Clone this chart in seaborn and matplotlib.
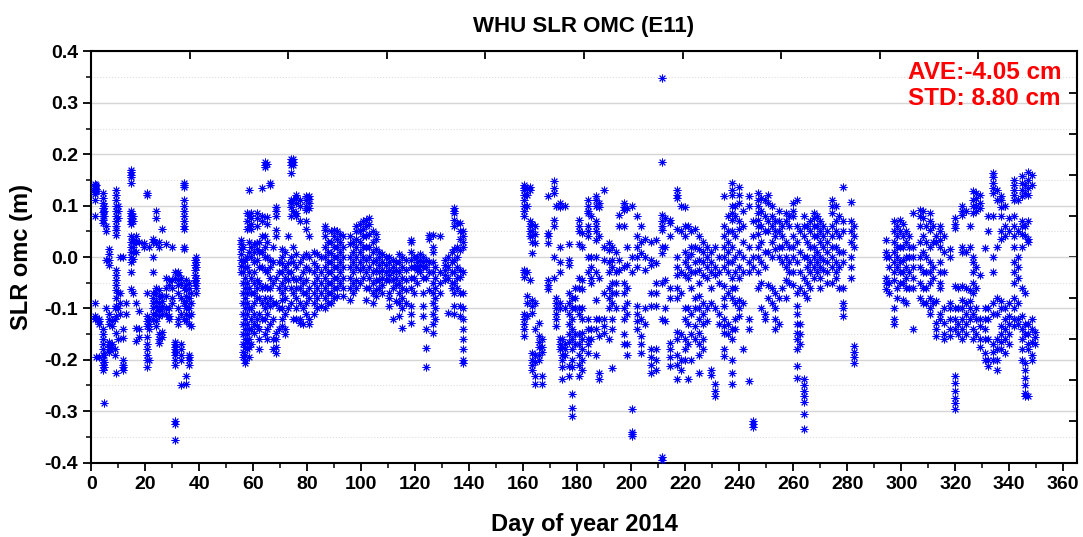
import numpy as np
import pandas as pd
import matplotlib
matplotlib.use("Agg")
import matplotlib.pyplot as plt
import seaborn as sns

# SLR observed-minus-computed residuals (m), one entry per normal-point pass:
# (day of year, residuals within that pass)
passes_jan_feb = [
    (1.2, [0.142, 0.138, 0.135, 0.131, 0.127, 0.122, 0.11, 0.08, -0.09, -0.115, -0.12]),
    (1.8, [0.14, 0.133, 0.128, -0.118, -0.195]),
    (3.0, [-0.12, -0.125, -0.13, -0.195]),
    (4.2, [0.125, 0.115, 0.105, 0.095, 0.088, 0.08, 0.072, 0.066, -0.14, -0.15, -0.16, -0.17, -0.18, -0.19, -0.2, -0.21, -0.22]),
    (4.7, [0.1, 0.09, 0.08, -0.285, -0.19, -0.205, -0.215]),
    (5.5, [0.06, 0.05, -0.005, -0.1]),
    (6.5, [0.015, 0.005, -0.005, -0.015, -0.11, -0.12, -0.13, -0.165, -0.17, -0.175, -0.18, -0.185]),
    (7.5, [-0.125, -0.135, -0.17, -0.178]),
    (8.6, [-0.1, -0.12, -0.18, -0.19]),
    (9.3, [0.13, 0.12, 0.11, 0.1, 0.09, 0.08, 0.07, 0.06, 0.053, 0.043, -0.025, -0.035, -0.045, -0.055, -0.065, -0.08, -0.095, -0.115, -0.147, -0.225]),
    (10.0, [0.1, 0.09, 0.075, -0.07, -0.1, -0.16]),
    (10.8, [0.0, -0.07, -0.09, -0.11]),
    (11.8, [0.0, -0.14, -0.157, -0.2, -0.21, -0.215, -0.22]),
    (12.8, [-0.09, -0.11]),
    (14.8, [0.17, 0.165, 0.16, 0.155, 0.145, 0.09, 0.085, 0.08, 0.075, 0.07, 0.065, 0.04, 0.03, 0.02, 0.01, 0.0, -0.01, -0.03, -0.063]),
    (15.5, [0.08, 0.07, 0.035, 0.03, 0.02, 0.01, -0.003, -0.07]),
    (16.5, [0.04, 0.03, 0.01, -0.09, -0.138, -0.164]),
    (17.7, [0.03, -0.14, -0.155, -0.105]),
    (19.5, [0.028, 0.02]),
    (20.5, [0.124, 0.12, -0.07, -0.115, -0.125, -0.135, -0.155, -0.17, -0.18, -0.19, -0.2, -0.215]),
    (21.5, [0.02, -0.12, -0.13, -0.14, -0.2]),
    (23.0, [0.035, 0.03, 0.0, -0.03, -0.07, -0.08, -0.09, -0.1, -0.11, -0.12]),
    (24.0, [0.09, 0.075, 0.028, -0.06, -0.07, -0.085, -0.095, -0.11, -0.125, -0.135]),
    (25.0, [0.03, 0.02, -0.065, -0.075, -0.09, -0.1, -0.105, -0.115, -0.15, -0.16, -0.167]),
    (26.2, [0.055, -0.075, -0.085, -0.095, -0.1, -0.11, -0.145, -0.155]),
    (27.5, [0.025, -0.04, -0.06, -0.075, -0.1, -0.11]),
    (28.8, [-0.045, -0.055, -0.1, -0.115, -0.12]),
    (30.0, [0.02, -0.045, -0.06, -0.08, -0.09]),
    (31.0, [-0.03, -0.04, -0.165, -0.17, -0.175, -0.18, -0.185, -0.19, -0.2, -0.21, -0.32, -0.325, -0.357]),
    (32.3, [-0.03, -0.035, -0.045, -0.055, -0.07, -0.1, -0.12, -0.13]),
    (33.3, [-0.04, -0.05, -0.08, -0.11, -0.17, -0.18, -0.19, -0.2, -0.25]),
    (34.3, [0.145, 0.14, 0.137, 0.11, 0.1, 0.09, 0.08, 0.07, 0.06, 0.055, 0.02, 0.015, -0.06, -0.09, -0.12]),
    (35.2, [-0.045, -0.055, -0.065, -0.075, -0.085, -0.095, -0.1, -0.11, -0.125, -0.232, -0.248]),
    (36.2, [-0.05, -0.06, -0.08, -0.1, -0.115, -0.13, -0.19, -0.195, -0.2, -0.21]),
    (37.0, [-0.07, -0.09, -0.11, -0.135]),
    (38.3, [-0.005, -0.015, -0.025, -0.035, -0.045, -0.05]),
    (38.9, [0.0, -0.01, -0.02, -0.04, -0.05, -0.06, -0.07]),
]

passes_feb_may = [
    (55.5, [0.034, 0.025, 0.015, 0.005, -0.005, -0.018, -0.03]),
    (56.3, [0.02, -0.01, -0.03, -0.05, -0.07, -0.09, -0.11, -0.13, -0.15, -0.17, -0.185, -0.195]),
    (57.0, [-0.005, -0.02, -0.04, -0.06, -0.08, -0.1, -0.12, -0.14, -0.16, -0.175, -0.19, -0.2, -0.206]),
    (57.8, [0.085, 0.07, 0.055, 0.0, -0.02, -0.05, -0.07, -0.09, -0.11, -0.13, -0.15, -0.165, -0.18]),
    (58.5, [0.13, 0.08, 0.06, 0.03, 0.01, -0.03, -0.06, -0.1, -0.14, -0.16, -0.175, -0.195]),
    (59.3, [0.085, 0.075, 0.065, 0.055, 0.02, 0.0, -0.04, -0.07, -0.1, -0.12, -0.14, -0.17]),
    (60.3, [0.025, 0.01, -0.01, -0.03, -0.05, -0.07, -0.09, -0.11, -0.13, -0.148]),
    (61.3, [0.085, 0.075, 0.06, 0.027, 0.015, -0.005, -0.044, -0.06, -0.08, -0.12, -0.135]),
    (62.3, [0.03, 0.01, -0.02, -0.05, -0.08, -0.11, -0.14, -0.16, -0.18]),
    (63.2, [0.135, 0.08, 0.07, 0.04, 0.01, -0.02, -0.06, -0.09, -0.12]),
    (64.2, [0.185, 0.18, 0.175, 0.04, 0.02, 0.0, -0.025, -0.057, -0.08, -0.1, -0.12, -0.15]),
    (65.0, [0.182, 0.078, 0.065, 0.03, 0.0, -0.03, -0.06, -0.09, -0.11, -0.14, -0.16]),
    (66.3, [0.144, 0.14, -0.005, -0.02, -0.04, -0.06, -0.08, -0.096, -0.13]),
    (67.3, [0.02, -0.01, -0.05, -0.09, -0.12, -0.16, -0.18]),
    (68.5, [0.098, 0.09, 0.08, 0.053, 0.04, -0.04, -0.09, -0.148, -0.16, -0.175, -0.186]),
    (69.5, [-0.01, -0.03, -0.06, -0.1, -0.14]),
    (70.7, [0.015, 0.0, -0.012, -0.03, -0.05, -0.07, -0.083, -0.1, -0.12, -0.135]),
    (71.7, [0.01, -0.02, -0.04, -0.06, -0.08, -0.11, -0.14, -0.15]),
    (72.8, [0.04, -0.012, -0.03, -0.044, -0.1]),
    (73.8, [0.19, 0.185, 0.18, 0.163, 0.111, 0.105, 0.098, 0.079, 0.0, -0.03, -0.06, -0.09]),
    (74.8, [0.19, 0.185, 0.18, 0.11, 0.09, 0.02, -0.01, -0.04, -0.07, -0.12]),
    (76.0, [0.12, 0.115, 0.105, 0.085, 0.08, 0.005, -0.02, -0.045, -0.06, -0.08, -0.1, -0.12]),
    (77.2, [0.11, 0.1, 0.07, -0.01, -0.04, -0.06, -0.09, -0.12, -0.128]),
    (78.5, [0.0, -0.03, -0.05, -0.07, -0.1, -0.13]),
    (79.6, [0.118, 0.11, 0.1, 0.092, 0.07, 0.055, 0.005, -0.02, -0.044, -0.07, -0.09, -0.11]),
    (80.8, [0.118, 0.112, 0.105, 0.095, 0.04, 0.0, -0.025, -0.06, -0.08, -0.12, -0.13]),
    (82.5, [0.01, -0.012, -0.03, -0.05, -0.07, -0.09, -0.11]),
    (83.7, [0.005, -0.02, -0.04, -0.06, -0.08, -0.1]),
    (85.0, [0.0, -0.03, -0.05, -0.07, -0.096]),
    (86.5, [0.06, 0.053, 0.04, 0.02, 0.0, -0.02, -0.04, -0.06, -0.08, -0.1]),
    (87.6, [0.03, 0.01, -0.01, -0.03, -0.05, -0.07, -0.09]),
    (88.7, [0.05, 0.03, 0.008, -0.01, -0.03, -0.05, -0.07, -0.09]),
    (89.8, [0.053, 0.04, 0.02, 0.0, -0.02, -0.04, -0.06, -0.08]),
    (91.0, [0.05, 0.035, 0.02, 0.0, -0.02, -0.04, -0.06, -0.076]),
    (92.2, [0.045, 0.03, 0.01, -0.01, -0.03, -0.05]),
    (93.4, [0.04, 0.02, 0.0, -0.02, -0.04, -0.06, -0.076]),
    (95.8, [0.04, 0.025, 0.0, -0.02, -0.04, -0.06, -0.083]),
    (97.0, [0.03, 0.01, -0.01, -0.03, -0.05, -0.07]),
    (98.2, [0.06, 0.05, 0.035, 0.02, 0.0, -0.02, -0.045, -0.06]),
    (99.4, [0.065, 0.05, 0.03, 0.01, -0.01, -0.025, -0.05]),
    (100.6, [0.07, 0.055, 0.04, 0.02, 0.0, -0.02, -0.04]),
    (101.8, [0.072, 0.06, 0.04, 0.02, -0.005, -0.03, -0.06, -0.083]),
    (103.0, [0.075, 0.065, 0.045, 0.02, 0.0, -0.02, -0.04, -0.06]),
    (104.2, [0.05, 0.03, 0.01, -0.01, -0.03, -0.05, -0.07, -0.09]),
    (105.4, [0.045, 0.035, 0.015, -0.005, -0.025, -0.045, -0.065, -0.076]),
    (106.6, [0.01, 0.0, -0.015, -0.03, -0.045, -0.06]),
    (107.8, [0.005, -0.01, -0.025, -0.04, -0.055, -0.07]),
    (109.0, [0.0, -0.015, -0.03, -0.045]),
    (110.4, [0.0, -0.01, -0.025, -0.035, -0.044, -0.07, -0.08, -0.096]),
    (111.6, [-0.005, -0.02, -0.03, -0.045, -0.06, -0.12]),
    (112.8, [-0.01, -0.025, -0.04, -0.055, -0.085]),
    (114.0, [0.005, -0.01, -0.03, -0.05, -0.07, -0.09, -0.115]),
    (115.2, [0.0, -0.02, -0.04, -0.06, -0.08, -0.1, -0.138]),
    (116.4, [-0.005, -0.025, -0.045, -0.065, -0.09]),
    (118.3, [0.034, 0.03, 0.01, -0.005, -0.02, -0.04, -0.06, -0.096, -0.11, -0.128]),
    (119.5, [0.0, -0.02, -0.04, -0.07]),
    (120.7, [0.0, -0.01, -0.02, -0.025, -0.05]),
    (121.8, [0.005, -0.005, -0.015, -0.03]),
    (123.0, [0.0, -0.01, -0.02, -0.04, -0.07, -0.096, -0.115]),
    (124.0, [-0.005, -0.02, -0.04, -0.14, -0.177, -0.215]),
    (125.0, [0.043, 0.035, -0.01, -0.03, -0.065]),
    (126.5, [0.043, 0.02, 0.01, -0.01, -0.03, -0.05, -0.07, -0.09, -0.11, -0.13, -0.148]),
    (127.3, [-0.02, -0.04, -0.06, -0.08, -0.1, -0.12]),
    (129.0, [0.04, -0.03, -0.05, -0.07]),
    (131.0, [-0.005, -0.015, -0.025, -0.035, -0.044]),
    (132.3, [0.0, -0.02, -0.04, -0.109]),
    (133.5, [0.01, -0.01, -0.03, -0.05, -0.06]),
    (134.5, [0.095, 0.09, 0.085, 0.072, 0.06, 0.015, -0.005, -0.03, -0.05, -0.07, -0.096, -0.11]),
    (135.5, [0.066, 0.02, 0.0, -0.02, -0.04, -0.06]),
    (136.7, [0.066, 0.05, 0.035, 0.014, -0.025, -0.038, -0.07, -0.096, -0.115]),
    (137.8, [0.05, 0.04, 0.03, 0.02, -0.03, -0.07, -0.1, -0.12, -0.14, -0.16, -0.18, -0.2, -0.206]),
]

passes_jun_oct = [
    (160.3, [0.14, 0.135, 0.13, 0.12, 0.11, 0.1, 0.09, 0.08, -0.025, -0.03, -0.038, -0.11, -0.12, -0.13, -0.14, -0.154]),
    (161.2, [0.135, 0.12, 0.1, -0.03, -0.076, -0.09, -0.115]),
    (162.5, [0.137, 0.13, 0.07, 0.06, 0.05, 0.04, -0.044]),
    (163.3, [0.065, 0.05, 0.04, 0.03, 0.008, -0.083, -0.095, -0.109, -0.186, -0.2, -0.21, -0.22]),
    (164.3, [0.06, 0.045, 0.027, -0.09, -0.141, -0.19, -0.205, -0.232, -0.248]),
    (166.0, [-0.128, -0.154, -0.165, -0.175, -0.19, -0.2]),
    (167.0, [-0.16, -0.175, -0.185, -0.232, -0.248]),
    (169.0, [0.118, 0.047, 0.04, 0.027, -0.044, -0.055, -0.063]),
    (171.3, [0.147, 0.135, 0.124, 0.072, 0.06, 0.0, -0.04]),
    (172.3, [0.1, -0.08, -0.09, -0.1, -0.11, -0.12, -0.135]),
    (173.5, [0.105, 0.098, 0.02, -0.01, -0.03, -0.09, -0.1, -0.16, -0.17, -0.18]),
    (174.5, [-0.16, -0.175, -0.19, -0.2, -0.215, -0.238]),
    (175.6, [0.1, -0.1, -0.17, -0.18, -0.19]),
    (177.0, [0.025, -0.005, -0.015, -0.07, -0.09, -0.11, -0.13, -0.15, -0.165, -0.212, -0.232]),
    (178.2, [-0.08, -0.1, -0.12, -0.14, -0.16, -0.18, -0.2, -0.215, -0.267, -0.293, -0.31]),
    (179.3, [-0.06, -0.08, -0.1, -0.15, -0.17]),
    (180.5, [0.072, 0.06, 0.05, 0.025, -0.04, -0.06, -0.1, -0.11, -0.15, -0.17, -0.19, -0.21, -0.232]),
    (181.8, [0.047, 0.02, -0.045, -0.063, -0.1, -0.12, -0.148, -0.16, -0.18, -0.2, -0.22]),
    (183.8, [0.111, 0.1, 0.09, 0.085, 0.06, 0.05, 0.04, 0.0, -0.03, -0.12, -0.14, -0.16, -0.17, -0.186]),
    (185.0, [0.08, 0.0, -0.02, -0.04, -0.05, -0.14, -0.16]),
    (186.8, [0.118, 0.11, 0.1, 0.07, 0.06, 0.05, 0.034, 0.0, -0.03, -0.083, -0.12, -0.14, -0.19]),
    (188.2, [0.105, 0.098, 0.04, -0.04, -0.12, -0.154, -0.225, -0.238]),
    (190.0, [0.131, 0.02, -0.005, -0.07, -0.12, -0.135, -0.148]),
    (191.7, [0.027, 0.014, -0.01, -0.03, -0.06, -0.08, -0.1, -0.16]),
    (193.0, [0.02, -0.005, -0.02, -0.05, -0.07, -0.09, -0.12, -0.14, -0.216]),
    (194.5, [0.01, -0.03, -0.05, -0.07, -0.1]),
    (195.5, [0.082, 0.06, -0.005, -0.025]),
    (197.2, [0.105, 0.098, 0.092, 0.06, -0.02, -0.05, -0.07, -0.1, -0.12, -0.15, -0.17]),
    (198.6, [0.095, 0.02, -0.015, -0.06, -0.09, -0.11, -0.17, -0.19]),
    (200.3, [0.1, 0.0, -0.03, -0.296, -0.34, -0.345, -0.348]),
    (202.0, [0.079, 0.04, 0.02, 0.0, -0.02, -0.096, -0.11, -0.125, -0.141]),
    (203.5, [0.06, 0.03, 0.008, -0.12, -0.154, -0.17, -0.186]),
    (205.0, [0.035, 0.0, -0.025, -0.1, -0.13]),
    (207.3, [0.03, -0.005, -0.015, -0.07, -0.096, -0.18, -0.195, -0.21, -0.225]),
    (209.0, [0.034, -0.012, -0.05, -0.07, -0.095, -0.18, -0.2, -0.22]),
    (211.5, [0.348, 0.184, 0.082, 0.07, 0.06, 0.053, 0.02, 0.008, -0.05, -0.12, -0.39, -0.395]),
    (212.5, [0.075, 0.02, -0.045, -0.1, -0.125]),
    (214.5, [0.072, 0.066, 0.04, -0.06, -0.08, -0.167, -0.18, -0.195, -0.212]),
    (217.0, [0.131, 0.12, 0.115, 0.055, 0.0, -0.02, -0.035, -0.06, -0.08, -0.145, -0.16, -0.19, -0.21, -0.238]),
    (218.5, [0.1, 0.05, -0.03, -0.07, -0.15, -0.2, -0.22]),
    (219.8, [0.098, 0.06, 0.04, 0.01, -0.01, -0.035, -0.1, -0.12, -0.16, -0.18, -0.2]),
    (221.0, [0.06, 0.0, -0.02, -0.04, -0.1, -0.13, -0.17, -0.238]),
    (222.3, [0.05, 0.02, 0.005, -0.03, -0.06, -0.11, -0.15, -0.2]),
    (223.6, [0.055, 0.02, -0.01, -0.03, -0.08, -0.1, -0.135, -0.16]),
    (225.0, [0.04, 0.015, -0.005, -0.025, -0.05, -0.076, -0.1, -0.12, -0.148, -0.17, -0.19, -0.225]),
    (226.5, [0.03, 0.01, -0.01, -0.035, -0.09, -0.11, -0.13, -0.16, -0.18]),
    (228.0, [0.02, 0.0, -0.02, -0.04, -0.1, -0.125]),
    (229.5, [0.01, -0.01, -0.03, -0.06, -0.09, -0.22, -0.23]),
    (231.0, [0.02, -0.02, -0.035, -0.1, -0.248, -0.26, -0.27]),
    (232.5, [0.0, -0.03, -0.05, -0.11, -0.13]),
    (234.3, [0.118, 0.06, 0.04, 0.02, 0.0, -0.02, -0.057, -0.08, -0.096, -0.12, -0.135, -0.148, -0.18, -0.193]),
    (235.8, [0.08, 0.05, 0.03, 0.01, -0.01, -0.03, -0.07, -0.13, -0.15]),
    (237.3, [0.144, 0.13, 0.12, 0.1, 0.085, 0.072, 0.05, 0.02, -0.01, -0.04, -0.06, -0.08, -0.14, -0.16, -0.2, -0.225, -0.248]),
    (238.5, [0.1, 0.08, 0.04, 0.0, -0.03, -0.06, -0.09, -0.12, -0.14]),
    (240.0, [0.137, 0.12, 0.105, 0.07, 0.055, 0.01, -0.02, -0.04, -0.083, -0.1, -0.115]),
    (241.5, [0.09, 0.06, 0.03, 0.0, -0.03, -0.09, -0.18]),
    (243.7, [0.118, 0.1, 0.02, -0.01, -0.03, -0.12, -0.14, -0.241]),
    (245.0, [0.07, 0.04, 0.0, -0.02, -0.32, -0.325, -0.33]),
    (246.8, [0.124, 0.11, 0.1, 0.085, 0.072, 0.06, 0.045, 0.02, 0.0, -0.03, -0.06]),
    (248.0, [0.115, 0.09, 0.06, 0.03, -0.01, -0.05, -0.1]),
    (249.4, [0.11, 0.08, 0.05, 0.01, -0.02, -0.11, -0.12]),
    (250.8, [0.12, 0.105, 0.07, 0.05, 0.01, -0.055, -0.08]),
    (252.0, [0.1, 0.08, 0.06, 0.03, 0.0, -0.06, -0.09]),
    (253.3, [0.07, 0.05, 0.04, 0.015, -0.07, -0.1, -0.12, -0.14]),
    (254.7, [0.09, 0.07, 0.05, 0.02, 0.0, -0.08, -0.13]),
    (256.0, [0.06, 0.04, 0.02, -0.01, -0.06]),
    (257.3, [0.085, 0.07, 0.03, 0.0, -0.02, -0.045, -0.08]),
    (258.6, [0.08, 0.06, 0.02, -0.01, -0.03, -0.05]),
    (260.0, [0.105, 0.09, 0.08, 0.04, 0.02, 0.0, -0.03, -0.055]),
    (261.3, [0.111, 0.06, 0.03, -0.01, -0.07, -0.096, -0.11, -0.13, -0.148, -0.16, -0.18, -0.212, -0.235]),
    (262.5, [0.05, 0.01, -0.03, -0.06, -0.13, -0.15, -0.17]),
    (263.8, [0.079, 0.06, 0.04, 0.0, -0.04, -0.07, -0.238, -0.25, -0.26, -0.27, -0.283, -0.306, -0.335]),
    (265.0, [0.06, 0.03, 0.0, -0.02, -0.05, -0.08]),
    (266.3, [0.07, 0.05, 0.02, -0.01, -0.03, -0.06]),
    (267.6, [0.085, 0.075, 0.06, 0.04, 0.02, 0.0, -0.02, -0.04]),
    (268.8, [0.08, 0.06, 0.04, 0.01, -0.01, -0.03]),
    (270.0, [0.07, 0.05, 0.03, 0.0, -0.02, -0.04, -0.06]),
    (271.2, [0.06, 0.04, 0.02, -0.005, -0.025]),
    (272.5, [0.05, 0.03, 0.01, -0.01, -0.03, -0.05]),
    (274.5, [0.111, 0.1, 0.085, 0.06, 0.04, 0.02, 0.0, -0.02, -0.05]),
    (275.8, [0.1, 0.07, 0.05, 0.02, -0.01, -0.03, -0.04]),
    (277.0, [0.08, 0.04, 0.01, -0.02, -0.06]),
    (278.5, [0.137, 0.07, 0.05, 0.01, -0.01, -0.06, -0.089, -0.1, -0.115]),
    (281.3, [0.108, 0.07, 0.05, 0.03, 0.0, -0.02, -0.04]),
    (282.5, [0.06, 0.04, 0.02, -0.173, -0.185, -0.195, -0.206]),
]

passes_oct_dec = [
    (294.2, [0.034, 0.01, 0.0, -0.04, -0.05, -0.063]),
    (295.3, [0.0, -0.02, -0.05, -0.07]),
    (297.2, [0.07, 0.05, 0.03, 0.01, -0.01, -0.03, -0.044, -0.1, -0.12, -0.131]),
    (298.3, [0.06, 0.04, 0.02, 0.0, -0.02, -0.06, -0.08]),
    (299.4, [0.072, 0.05, 0.02, -0.01, -0.03, -0.05]),
    (300.6, [0.065, 0.04, 0.02, -0.005, -0.03, -0.05, -0.083]),
    (301.8, [0.05, 0.03, 0.0, -0.02, -0.04, -0.06, -0.09]),
    (303.0, [0.04, 0.02, 0.0, -0.03, -0.06]),
    (304.3, [0.085, 0.02, 0.0, -0.02, -0.04, -0.06, -0.141]),
    (306.8, [0.092, 0.08, 0.06, 0.03, 0.0, -0.02, -0.05, -0.08]),
    (308.0, [0.09, 0.075, 0.04, 0.01, -0.03, -0.06, -0.09]),
    (309.3, [0.06, 0.03, 0.0, -0.03, -0.06, -0.09]),
    (310.6, [0.085, 0.07, 0.053, 0.02, -0.01, -0.03, -0.05, -0.08, -0.1, -0.11]),
    (311.8, [0.06, 0.03, -0.02, -0.04, -0.09]),
    (313.0, [0.04, 0.03, -0.085, -0.128, -0.14, -0.154]),
    (314.5, [0.06, 0.05, 0.034, 0.02, -0.01, -0.03, -0.05, -0.06, -0.11, -0.12]),
    (316.0, [0.04, 0.01, -0.03, -0.1, -0.128, -0.15, -0.16]),
    (318.0, [0.015, 0.0, -0.09, -0.1, -0.12, -0.14, -0.154]),
    (319.8, [0.075, 0.065, 0.056, -0.057, -0.1, -0.12, -0.14, -0.232, -0.245, -0.26, -0.275, -0.285, -0.296]),
    (321.0, [-0.06, -0.1, -0.13, -0.15]),
    (322.5, [0.1, 0.09, 0.082, 0.02, 0.01, -0.057, -0.083, -0.1, -0.12, -0.14, -0.16]),
    (324.0, [0.09, 0.01, -0.06, -0.09, -0.11, -0.13, -0.15]),
    (325.3, [0.06, 0.02, -0.065, -0.085, -0.1, -0.12]),
    (326.5, [0.128, 0.11, 0.1, 0.085, 0.0, -0.01, -0.03, -0.05, -0.07, -0.11, -0.14, -0.16]),
    (327.8, [0.125, 0.115, 0.1, 0.09, -0.02, -0.06, -0.1, -0.12, -0.15]),
    (329.2, [0.12, 0.105, 0.095, -0.035, -0.12, -0.135, -0.16, -0.175]),
    (331.0, [0.017, -0.1, -0.12, -0.14, -0.16, -0.186, -0.2]),
    (332.3, [0.08, 0.05, -0.1, -0.12, -0.16, -0.2, -0.212]),
    (334.0, [0.163, 0.155, 0.145, 0.135, 0.124, 0.08, 0.0, -0.03, -0.09, -0.11, -0.17, -0.185, -0.2]),
    (335.5, [0.13, 0.11, 0.02, -0.08, -0.11, -0.16, -0.18, -0.2, -0.22]),
    (337.0, [0.118, 0.11, 0.098, 0.08, 0.05, 0.035, -0.085, -0.1, -0.135, -0.15, -0.165, -0.18]),
    (338.5, [0.1, 0.06, 0.04, -0.1, -0.12, -0.14, -0.16, -0.186]),
    (340.0, [0.075, 0.05, -0.09, -0.115, -0.13, -0.15, -0.17]),
    (341.8, [0.15, 0.14, 0.13, 0.12, 0.111, 0.08, 0.06, 0.04, 0.02, -0.01, -0.03, -0.05, -0.08, -0.1, -0.12, -0.135]),
    (343.2, [0.11, 0.05, 0.0, -0.02, -0.04, -0.09, -0.12, -0.13]),
    (344.8, [0.157, 0.145, 0.13, 0.118, 0.07, 0.06, 0.045, 0.02, -0.06, -0.115, -0.14, -0.16, -0.18, -0.2]),
    (345.8, [0.14, 0.125, 0.06, 0.04, -0.07, -0.13, -0.15, -0.206, -0.22, -0.235, -0.25, -0.265, -0.27]),
    (347.0, [0.166, 0.15, 0.135, 0.12, 0.07, 0.035, 0.03, -0.13, -0.15, -0.17, -0.18, -0.27]),
    (348.3, [0.16, 0.14, -0.12, -0.14, -0.165, -0.19, -0.2]),
    (349.5, [-0.145, -0.155, -0.17]),
]

x_major_ticks = list(range(0, 361, 20))
y_major_ticks = [-0.4, -0.3, -0.2, -0.1, 0.0, 0.1, 0.2, 0.3, 0.4]
y_tick_labels = ["-0.4", "-0.3", "-0.2", "-0.1", "0.0", "0.1", "0.2", "0.3", "0.4"]
ave_cm = -4.05
std_cm = 8.80

rows = []
for group in (passes_jan_feb, passes_feb_may, passes_jun_oct, passes_oct_dec):
    for day, vals in group:
        for v in vals:
            rows.append((day, v))
df = pd.DataFrame(rows, columns=["day", "omc"])

sns.set_theme(style="white")
plt.rcParams["font.family"] = ["Liberation Sans", "DejaVu Sans"]
plt.rcParams["font.weight"] = "bold"
plt.rcParams["text.color"] = "black"
plt.rcParams["axes.labelcolor"] = "black"
plt.rcParams["xtick.color"] = "black"
plt.rcParams["ytick.color"] = "black"

fig = plt.figure(figsize=(10.83, 5.37), dpi=100)
ax = fig.add_axes([0.0843, 0.1387, 0.9099, 0.7654])

sns.scatterplot(data=df, x="day", y="omc", marker=(8, 2, 0), s=26,
                color="#0000ff", linewidth=0.7, legend=False, ax=ax, zorder=3)

ax.set_xlim(0, 365)
ax.set_ylim(-0.4, 0.4)
ax.set_xticks(x_major_ticks)
ax.set_xticks(list(range(10, 365, 20)), minor=True)
ax.set_yticks(y_major_ticks)
ax.set_yticklabels(y_tick_labels)
ax.set_yticks([-0.35, -0.25, -0.15, -0.05, 0.05, 0.15, 0.25, 0.35], minor=True)

ax.tick_params(axis="both", which="major", direction="out", length=6, width=1.3,
               labelsize=14, color="black", labelcolor="black",
               bottom=True, left=True, top=False, right=False)
ax.tick_params(axis="both", which="minor", direction="out", length=3.5, width=1.1,
               color="black", bottom=True, left=True, top=False, right=False)
ax.tick_params(axis="x", pad=4)
for lab in ax.get_xticklabels() + ax.get_yticklabels():
    lab.set_fontweight("bold")

ax.yaxis.grid(True, which="major", color="#d6d6d6", linewidth=1.0, linestyle="-")
ax.yaxis.grid(True, which="minor", color="#dedede", linewidth=0.8, linestyle=":")
ax.xaxis.grid(False)
ax.set_axisbelow(True)

for sp in ax.spines.values():
    sp.set_visible(True)
    sp.set_color("black")
    sp.set_linewidth(1.5)

# unlabelled inward ticks on the top and right frame
top = ax.secondary_xaxis("top")
top.set_xticks(np.linspace(0, 365, 11))
top.tick_params(direction="in", length=6, width=1.3, color="black", labeltop=False)
top.set_xticklabels([])
right = ax.secondary_yaxis("right")
right.set_yticks(np.linspace(-0.4, 0.4, 11))
right.tick_params(direction="in", length=6, width=1.3, color="black", labelright=False)
right.set_yticklabels([])

ax.set_xlabel("Day of year 2014", fontsize=17, fontweight="bold", labelpad=14, color="black")
ax.set_ylabel("SLR omc (m)", fontsize=17, fontweight="bold", labelpad=8, color="black")
ax.set_title("WHU SLR OMC (E11)", fontsize=16, fontweight="bold", pad=14, color="black")

ax.text(0.829, 0.934, f"AVE:{ave_cm:.2f} cm", transform=ax.transAxes, ha="left",
        va="baseline", color="#ff0000", fontsize=17.5, fontweight="bold")
ax.text(0.829, 0.869, f"STD: {std_cm:.2f} cm", transform=ax.transAxes, ha="left",
        va="baseline", color="#ff0000", fontsize=17.5, fontweight="bold")

fig.savefig("out.png", dpi=100)
